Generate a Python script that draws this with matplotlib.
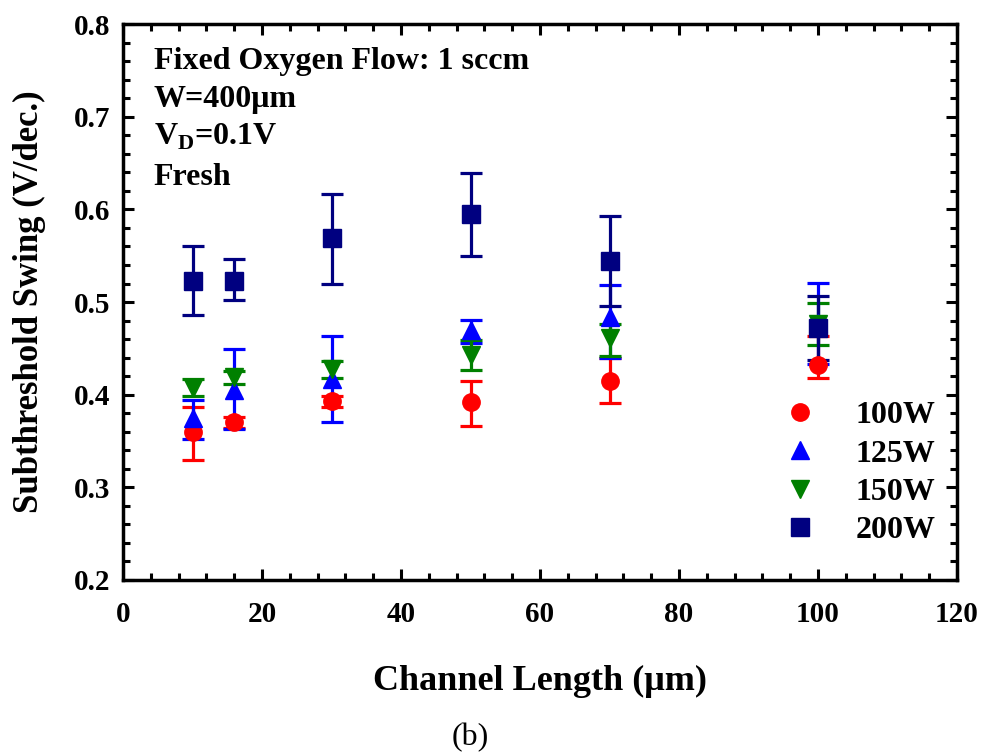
import matplotlib.pyplot as plt
from matplotlib.lines import Line2D
from matplotlib.ticker import MultipleLocator
import numpy as np

plt.rcParams['font.family'] = ['Liberation Serif', 'DejaVu Serif']
plt.rcParams['font.weight'] = 'bold'
plt.rcParams['mathtext.fontset'] = 'custom'
plt.rcParams['mathtext.rm'] = 'Liberation Serif:bold'
plt.rcParams['mathtext.bf'] = 'Liberation Serif:bold'

# channel length (um)
length = [10, 16, 30, 50, 70, 100]

# subthreshold swing (V/dec.) and error bars (lower, upper)
ss_100w = [0.360, 0.370, 0.393, 0.392, 0.415, 0.432]
lo_100w = [0.031, 0.006, 0.006, 0.026, 0.024, 0.014]
hi_100w = [0.027, 0.006, 0.006, 0.023, 0.025, 0.031]

ss_125w = [0.375, 0.405, 0.417, 0.470, 0.484, 0.477]
lo_125w = [0.023, 0.042, 0.047, 0.014, 0.044, 0.044]
hi_125w = [0.019, 0.044, 0.046, 0.011, 0.034, 0.044]

ss_150w = [0.407, 0.419, 0.428, 0.443, 0.461, 0.476]
lo_150w = [0.009, 0.007, 0.010, 0.016, 0.019, 0.022]
hi_150w = [0.010, 0.007, 0.008, 0.016, 0.015, 0.023]

ss_200w = [0.523, 0.523, 0.569, 0.595, 0.544, 0.472]
lo_200w = [0.037, 0.021, 0.049, 0.045, 0.048, 0.035]
hi_200w = [0.037, 0.023, 0.048, 0.044, 0.049, 0.035]

labels = ['100W', '125W', '150W', '200W']
colors = ['#ff0000', '#0000ff', '#008000', '#000080']
markers = ['o', '^', 'v', 's']
values = [ss_100w, ss_125w, ss_150w, ss_200w]
lowers = [lo_100w, lo_125w, lo_150w, lo_200w]
uppers = [hi_100w, hi_125w, hi_150w, hi_200w]

fig = plt.figure(figsize=(9.84, 7.56), dpi=100)
ax = fig.add_axes([0.125, 0.233, 0.8476, 0.735])

handles = []
for lab, c, m, v, lo, hi in zip(labels, colors, markers, values, lowers, uppers):
    ax.errorbar(length, v, yerr=[lo, hi], fmt=m, color=c, ecolor=c,
                markersize=12.5, elinewidth=2.3, capsize=8, capthick=2.3)
    handles.append(Line2D([], [], linestyle='none', marker=m, color=c,
                          markersize=12.5, label=lab))

ax.set_xlim(0, 120)
ax.set_ylim(0.2, 0.8)
ax.xaxis.set_major_locator(MultipleLocator(20))
ax.xaxis.set_minor_locator(MultipleLocator(4))
ax.yaxis.set_major_locator(MultipleLocator(0.1))
ax.yaxis.set_minor_locator(MultipleLocator(0.02))
ax.tick_params(which='both', direction='in', top=True, right=True, width=2.2)
ax.tick_params(which='major', length=8, labelsize=21)
ax.tick_params(axis='x', which='major', pad=15)
ax.tick_params(axis='y', which='major', pad=9)
ax.tick_params(which='minor', length=5)
for sp in ax.spines.values():
    sp.set_linewidth(2.5)

ax.set_xlabel('Channel Length (\u03bcm)', fontsize=26, fontweight='bold', labelpad=27)
ax.set_ylabel('Subthreshold Swing (V/dec.)', fontsize=25, fontweight='bold', labelpad=20)

ax.text(0.037, 0.932, 'Fixed Oxygen Flow: 1 sccm', transform=ax.transAxes, fontsize=23, va='center')
ax.text(0.037, 0.864, 'W=400\u03bcm', transform=ax.transAxes, fontsize=23, va='center')
ax.text(0.037, 0.797, r'V$_\mathrm{D}$=0.1V', transform=ax.transAxes, fontsize=23, va='center')
ax.text(0.037, 0.724, 'Fresh', transform=ax.transAxes, fontsize=23, va='center')

ax.legend(handles=handles, loc='lower right', bbox_to_anchor=(0.997, 0.028), frameon=False,
          fontsize=23, handlelength=1.0, handletextpad=1.22, labelspacing=0.28,
          borderaxespad=0.2)

fig.text(0.478, 0.024, '(b)', fontsize=23, fontweight='normal', ha='center', va='center')

fig.savefig('out.png', dpi=100)
